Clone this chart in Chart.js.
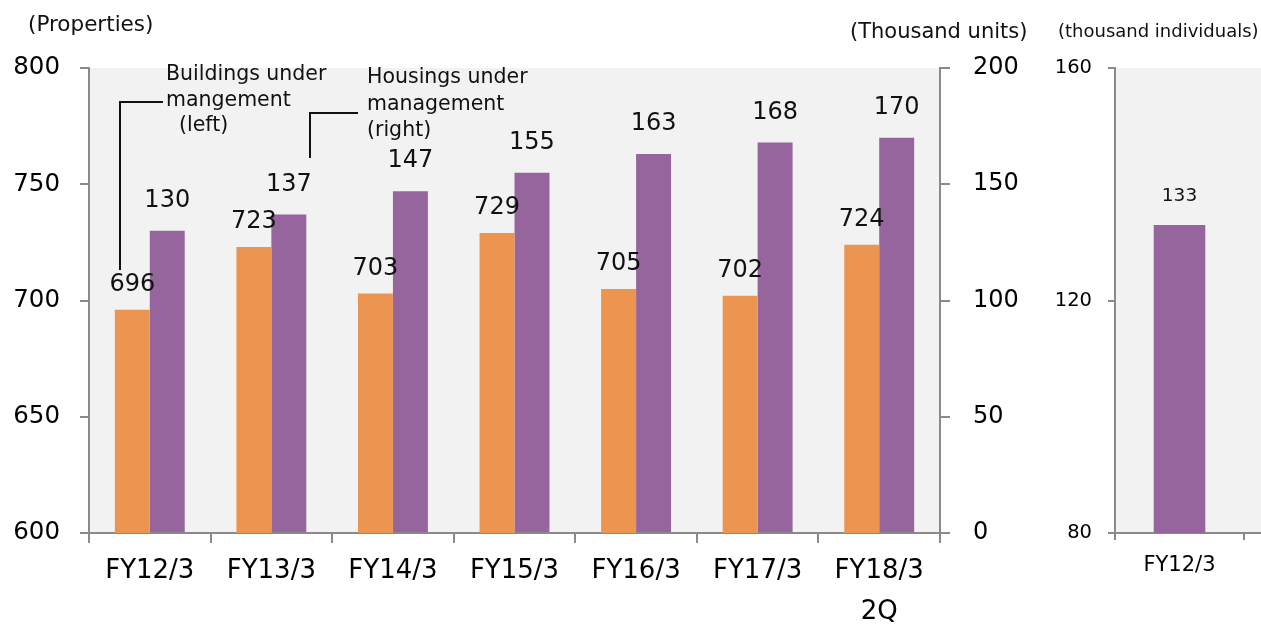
<!DOCTYPE html>
<html>
<head>
<meta charset="utf-8">
<title>Buildings and housings under management</title>
<script src="https://cdn.jsdelivr.net/npm/chart.js@4.4.1/dist/chart.umd.min.js"></script>
<style>
  html, body { margin: 0; padding: 0; background: #fff; }
  #wrap { position: relative; width: 1261px; height: 627px; overflow: hidden; }
  #mainChart { position: absolute; left: 0; top: 0; }
  #sideChart { position: absolute; left: 1040px; top: 0; }
</style>
</head>
<body>
<div id="wrap">
  <canvas id="mainChart" width="1040" height="627"></canvas>
  <canvas id="sideChart" width="221" height="627"></canvas>
</div>
<script>
// values
var years = ['FY12/3', 'FY13/3', 'FY14/3', 'FY15/3', 'FY16/3', 'FY17/3', ['FY18/3', '2Q']];
var buildings = [696, 723, 703, 729, 705, 702, 724];   // properties (left axis)
var housings = [130, 137, 147, 155, 163, 168, 170];    // thousand units (right axis)
var sideYears = ['FY12/3'];
var individuals = [133];                                // thousand individuals

var ORANGE = '#EC9551';
var PURPLE = '#96659E';
var AXIS = '#8a8a8a';
var FONT = '"DejaVu Sans", Verdana, sans-serif';

Chart.defaults.font.family = FONT;
Chart.defaults.color = '#000';

// grey plot background (side chart runs on past its last category)
var plotBg = {
  id: 'plotBg',
  beforeDraw: function (chart, args, opts) {
    var a = chart.chartArea;
    var ctx = chart.ctx;
    var right = opts.toEdge ? chart.width : a.right;
    ctx.save();
    ctx.fillStyle = '#F2F2F2';
    ctx.fillRect(a.left, a.top, right - a.left, a.bottom - a.top);
    if (opts.toEdge) {
      ctx.strokeStyle = AXIS;
      ctx.lineWidth = 2;
      ctx.beginPath();
      ctx.moveTo(a.right, a.bottom);
      ctx.lineTo(chart.width, a.bottom);
      ctx.stroke();
    }
    ctx.restore();
  }
};

// numbers above the bars
var valueLabels = {
  id: 'valueLabels',
  afterDatasetsDraw: function (chart) {
    var ctx = chart.ctx;
    ctx.save();
    ctx.textAlign = 'center';
    ctx.textBaseline = 'middle';
    ctx.fillStyle = '#111';
    chart.data.datasets.forEach(function (ds, i) {
      var meta = chart.getDatasetMeta(i);
      ctx.font = (ds.labelSize || 24) + 'px ' + FONT;
      meta.data.forEach(function (bar, j) {
        ctx.fillText(String(ds.data[j]), bar.x, bar.y - ds.labelLift);
      });
    });
    ctx.restore();
  }
};

// legend callouts with leader lines, plus unit captions
var callouts = {
  id: 'callouts',
  afterDraw: function (chart) {
    var ctx = chart.ctx;
    ctx.save();
    ctx.fillStyle = '#111';
    ctx.textBaseline = 'middle';
    ctx.textAlign = 'left';
    ctx.font = '21.5px ' + FONT;
    ctx.fillText('(Properties)', 28, 25);
    ctx.font = '21px ' + FONT;
    ctx.fillText('(Thousand units)', 850, 33);

    ctx.font = '20.5px ' + FONT;
    ctx.fillText('Buildings under', 166, 75);
    ctx.fillText('mangement', 166, 101);
    ctx.fillText('(left)', 179, 126);
    ctx.fillText('Housings under', 367, 78);
    ctx.fillText('management', 367, 105);
    ctx.fillText('(right)', 367, 131);

    ctx.strokeStyle = '#111';
    ctx.lineWidth = 2;
    ctx.beginPath();
    ctx.moveTo(120, 270);
    ctx.lineTo(120, 102);
    ctx.lineTo(163, 102);
    ctx.moveTo(310, 158);
    ctx.lineTo(310, 113);
    ctx.lineTo(358, 113);
    ctx.stroke();
    ctx.restore();
  }
};

var sideCaption = {
  id: 'sideCaption',
  afterDraw: function (chart) {
    var ctx = chart.ctx;
    ctx.save();
    ctx.fillStyle = '#111';
    ctx.textBaseline = 'middle';
    ctx.textAlign = 'left';
    ctx.font = '18px ' + FONT;
    ctx.fillText('(thousand individuals)', 18, 32);
    ctx.restore();
  }
};

function axisGrid(len) {
  return { drawOnChartArea: false, drawTicks: true, tickLength: len, color: AXIS, lineWidth: 2 };
}

new Chart(document.getElementById('mainChart'), {
  type: 'bar',
  data: {
    labels: years,
    datasets: [{
      label: 'Buildings under mangement (left)',
      data: buildings,
      backgroundColor: ORANGE,
      yAxisID: 'y',
      labelLift: 25,
    }, {
      label: 'Housings under management (right)',
      data: housings,
      backgroundColor: PURPLE,
      yAxisID: 'y1',
      labelLift: 30,
    }],
  },
  options: {
    responsive: false,
    animation: false,
    categoryPercentage: 0.575,
    barPercentage: 1,
    layout: { padding: { top: 68, left: 0, right: 0, bottom: 0 } },
    plugins: {
      legend: { display: false },
      tooltip: { enabled: false },
    },
    scales: {
      x: {
        grid: Object.assign(axisGrid(10), { offset: true }),
        border: { display: true, color: AXIS, width: 2 },
        ticks: { font: { size: 26, lineHeight: 1.58 }, padding: 8, maxRotation: 0, autoSkip: false },
        afterFit: function (s) { s.height = 94; },
      },
      y: {
        position: 'left',
        min: 600,
        max: 800,
        grid: axisGrid(9),
        border: { display: true, color: AXIS, width: 2 },
        ticks: { stepSize: 50, font: { size: 24.5 }, padding: 20 },
        afterFit: function (s) { s.width = 89; },
      },
      y1: {
        position: 'right',
        min: 0,
        max: 200,
        grid: axisGrid(10),
        border: { display: true, color: AXIS, width: 2 },
        ticks: { stepSize: 50, font: { size: 24 }, padding: 23 },
        afterFit: function (s) { s.width = 100; },
      },
    },
  },
  plugins: [plotBg, valueLabels, callouts],
});

new Chart(document.getElementById('sideChart'), {
  type: 'bar',
  data: {
    labels: sideYears,
    datasets: [{
      label: 'thousand individuals',
      data: individuals,
      backgroundColor: PURPLE,
      labelLift: 29,
      labelSize: 18.5,
    }],
  },
  options: {
    responsive: false,
    animation: false,
    categoryPercentage: 0.4,
    barPercentage: 1,
    layout: { padding: { top: 68, left: 0, right: 17, bottom: 0 } },
    plugins: {
      legend: { display: false },
      tooltip: { enabled: false },
      plotBg: { toEdge: true },
    },
    scales: {
      x: {
        grid: Object.assign(axisGrid(7), { offset: true }),
        border: { display: true, color: AXIS, width: 2 },
        ticks: { font: { size: 21 }, padding: 13, maxRotation: 0 },
        afterFit: function (s) { s.height = 94; },
      },
      y: {
        min: 80,
        max: 160,
        grid: axisGrid(7),
        border: { display: true, color: AXIS, width: 2 },
        ticks: { stepSize: 40, font: { size: 19.5 }, padding: 16 },
        afterFit: function (s) { s.width = 75; },
      },
    },
  },
  plugins: [plotBg, valueLabels, sideCaption],
});
</script>
</body>
</html>
